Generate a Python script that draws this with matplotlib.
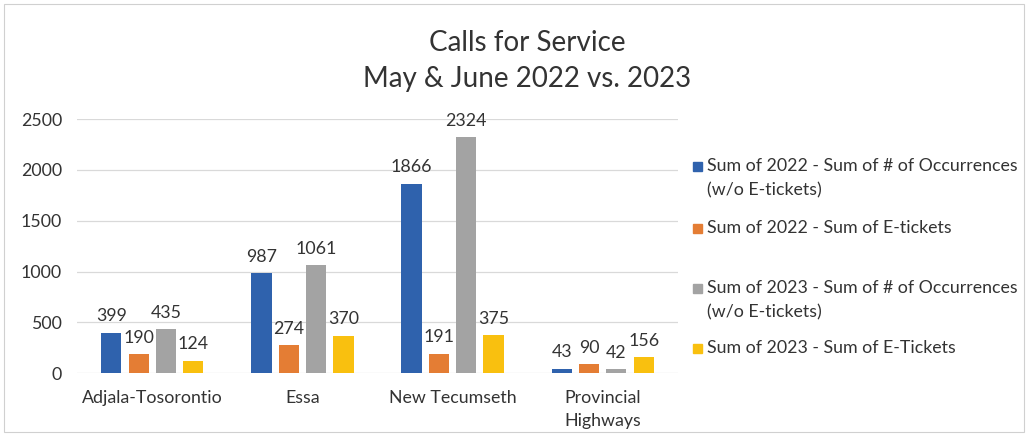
import matplotlib
matplotlib.use("Agg")
import matplotlib.pyplot as plt
from matplotlib.patches import Rectangle

plt.rcParams['font.family'] = ['Lato', 'DejaVu Sans']

categories = ["Adjala-Tosorontio", "Essa", "New Tecumseth", "Provincial\nHighways"]
series_names = [
    "Sum of 2022 - Sum of # of Occurrences\n(w/o E-tickets)",
    "Sum of 2022 - Sum of E-tickets",
    "Sum of 2023 - Sum of # of Occurrences\n(w/o E-tickets)",
    "Sum of 2023 - Sum of E-Tickets",
]
occ_2022 = [399, 987, 1866, 43]
etk_2022 = [190, 274, 191, 90]
occ_2023 = [435, 1061, 2324, 42]
etk_2023 = [124, 370, 375, 156]
series_values = [occ_2022, etk_2022, occ_2023, etk_2023]
colors = ["#2f62ad", "#e47d34", "#a3a3a3", "#f9c00f"]
yticks = [0, 500, 1000, 1500, 2000, 2500]

txt = '#333333'
fig = plt.figure(figsize=(10.3, 4.38), dpi=100)
ax = fig.add_axes([0.075, 0.148, 0.583, 0.58])

bar_w = 0.135
step = 0.182
n = len(series_values)
for i, (vals, col) in enumerate(zip(series_values, colors)):
    xs = [c + (i - (n - 1) / 2) * step for c in range(len(categories))]
    bars = ax.bar(xs, vals, width=bar_w, color=col, zorder=3)
    for b, v in zip(bars, vals):
        ax.annotate(str(v), (b.get_x() + b.get_width() / 2, v),
                    xytext=(0, 6), textcoords='offset points',
                    ha='center', va='bottom', fontsize=12.8, color=txt, zorder=4)

ax.set_xlim(-0.5, len(categories) - 0.5)
ax.set_ylim(0, 2500)
ax.set_yticks(yticks)
ax.set_yticklabels([str(t) for t in yticks], fontsize=12.8, color=txt)
ax.set_xticks(range(len(categories)))
ax.set_xticklabels(categories, fontsize=12.8, color=txt, linespacing=1.55)
ax.tick_params(axis='both', length=0)
ax.tick_params(axis='y', pad=11)
ax.tick_params(axis='x', pad=12)
ax.grid(axis='y', color='#d9d9d9', linewidth=0.9, zorder=0)
for s in ax.spines.values():
    s.set_visible(False)

fig.text(0.512, 0.902, "Calls for Service", ha='center', va='center',
         fontsize=20, color=txt)
fig.text(0.512, 0.820, "May & June 2022 vs. 2023", ha='center', va='center',
         fontsize=20, color=txt)

# legend entries, placed by hand with square markers
legend_tops = [166, 228, 288, 348]
for name, col, top in zip(series_names, colors, legend_tops):
    yf = 1 - top / 438
    fig.patches.append(Rectangle((693 / 1030, yf - 5 / 438), 9 / 1030, 9 / 438,
                                 transform=fig.transFigure, color=col, figure=fig))
    fig.text(707 / 1030, yf + 8 / 438, name, ha='left', va='top',
             fontsize=12.8, color=txt, linespacing=1.6)

# chart frame
fig.patches.append(Rectangle((4 / 1030, 6 / 438), 1020 / 1030, 428 / 438,
                             transform=fig.transFigure, fill=False,
                             edgecolor='#d0d0d0', linewidth=0.8, figure=fig))

fig.savefig("out.png", dpi=100, facecolor='white')
